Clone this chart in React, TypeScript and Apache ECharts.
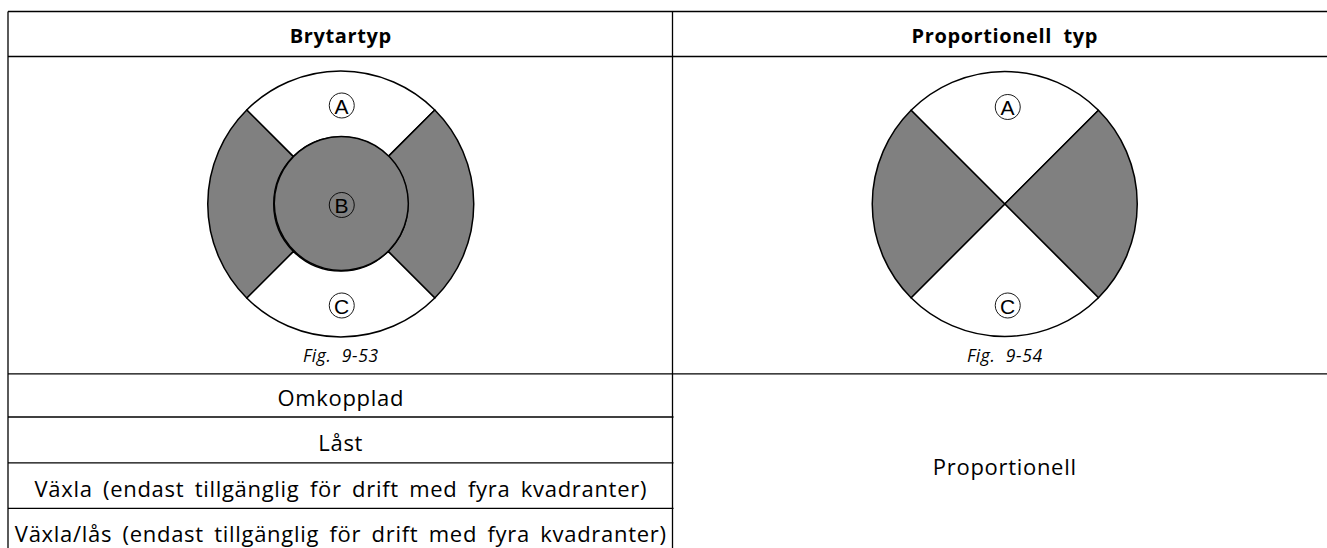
import React, { useEffect, useRef } from "react";
import * as echarts from "echarts";

// ---- content ----
const headers = ["Brytartyp", "Proportionell  typ"];
const figureLabels = ["Fig.  9-53", "Fig.  9-54"];
const switchModes = [
  "Omkopplad",
  "Låst",
  "Växla (endast tillgänglig för drift med fyra kvadranter)",
  "Växla/lås (endast tillgänglig för drift med fyra kvadranter)",
];
const proportionalModes = ["Proportionell"];
// four equal quadrants of the joystick: top, right, bottom, left (percent)
const quadrantShares = [25, 25, 25, 25];
const quadrantIsActive = [false, true, false, true];
const centerShare = [100];
const switchZoneLetters = ["A", "B", "C"];
const proportionalZoneLetters = ["A", "C"];

export default function App() {
  const ref = useRef<HTMLDivElement>(null);

  useEffect(() => {
    if (!ref.current) return;
    const chart = echarts.init(ref.current, undefined, { renderer: "svg" });

    const gray = "#808080";
    const left = 8;
    const top = 11.5;
    const right = 1327;
    const split = 672.5;
    const headerBottom = 56.5;
    const figBottom = 373.8;
    const rowEdges = [figBottom, 417, 462.8, 508.3, 553];
    const bottom = 548;
    const leftCx = (left + split) / 2 + 0.5;
    const rightCx = (split + 1337) / 2;
    const cy = 204;
    const lineStyle = { stroke: "#000", lineWidth: 1.3 };
    const bodyFont = "'Open Sans', sans-serif";

    const quadData = quadrantShares.map((v, i) => ({
      value: v,
      itemStyle: { color: quadrantIsActive[i] ? gray : "#ffffff" },
    }));

    const pieBase = {
      type: "pie",
      silent: true,
      clockwise: true,
      startAngle: 135,
      label: { show: false },
      labelLine: { show: false },
      emphasis: { disabled: true },
      itemStyle: { borderColor: "#000", borderWidth: 1.5 },
    };

    const graphics: any[] = [];
    const hLine = (x1: number, x2: number, y: number) =>
      graphics.push({ type: "line", shape: { x1, y1: y, x2, y2: y }, style: lineStyle });
    const vLine = (x: number, y1: number, y2: number) =>
      graphics.push({ type: "line", shape: { x1: x, y1, x2: x, y2 }, style: lineStyle });

    hLine(left, right, top);
    hLine(left, right, headerBottom);
    hLine(left, right, figBottom);
    rowEdges.slice(1, 4).forEach((y) => hLine(left, split + 1, y));
    vLine(left, top, bottom);
    vLine(split, top, bottom);

    const text = (
      t: string,
      x: number,
      y: number,
      size: number,
      extra: any = {}
    ) =>
      graphics.push({
        type: "text",
        x,
        y,
        z: 20,
        style: {
          text: t,
          x: 0,
          y: 0,
          align: "center",
          verticalAlign: "middle",
          fill: "#000",
          fontSize: size,
          fontFamily: bodyFont,
          ...extra,
        },
      });

    text(headers[0], leftCx, 35, 20, { fontWeight: "bold" });
    text(headers[1], rightCx, 35, 20, { fontWeight: "bold" });
    text(figureLabels[0], leftCx, 355, 17.5, { fontStyle: "italic" });
    text(figureLabels[1], rightCx, 355, 17.5, { fontStyle: "italic" });

    switchModes.forEach((m, i) => {
      const yc = (rowEdges[i] + rowEdges[i + 1]) / 2 + 2;
      text(m, leftCx, yc, 22);
    });
    text(proportionalModes[0], rightCx, 466, 22);

    const circled = (letter: string, x: number, y: number) => {
      graphics.push({
        type: "circle",
        z: 20,
        shape: { cx: x, cy: y, r: 12.5 },
        style: { fill: "none", stroke: "#000", lineWidth: 0.9 },
      });
      graphics.push({
        type: "text",
        x,
        y: y + 0.5,
        z: 21,
        style: {
          text: letter,
          align: "center",
          verticalAlign: "middle",
          fill: "#000",
          fontSize: 21,
          fontFamily: "'Liberation Sans', Arial, sans-serif",
        },
      });
    };
    const switchOffsets = [-98.5, 1, 101.5];
    switchZoneLetters.forEach((l, i) => circled(l, leftCx + 1, cy + switchOffsets[i]));
    const propOffsets = [-97, 101.5];
    proportionalZoneLetters.forEach((l, i) => circled(l, rightCx + 3, cy + propOffsets[i]));

    chart.setOption({
      animation: false,
      backgroundColor: "#ffffff",
      series: [
        { ...pieBase, name: "switch-ring", center: [leftCx, cy], radius: [67, 133], data: quadData },
        {
          ...pieBase,
          name: "switch-center",
          center: [leftCx, cy],
          radius: [0, 67],
          data: centerShare.map((v) => ({ value: v, itemStyle: { color: gray } })),
        },
        { ...pieBase, name: "proportional", center: [rightCx, cy], radius: [0, 132.5], data: quadData },
      ],
      graphic: { elements: graphics },
    });

    return () => chart.dispose();
  }, []);

  return (
    <>
      <style>{`.resk-chart text{letter-spacing:0.6px;}.resk-chart text[style*="22px"]{letter-spacing:0.7px;word-spacing:4px;}`}</style>
      <div
        ref={ref}
        className="resk-chart"
        style={{ position: "absolute", left: 0, top: 0, width: 1327, height: 548, background: "#fff" }}
      />
    </>
  );
}
